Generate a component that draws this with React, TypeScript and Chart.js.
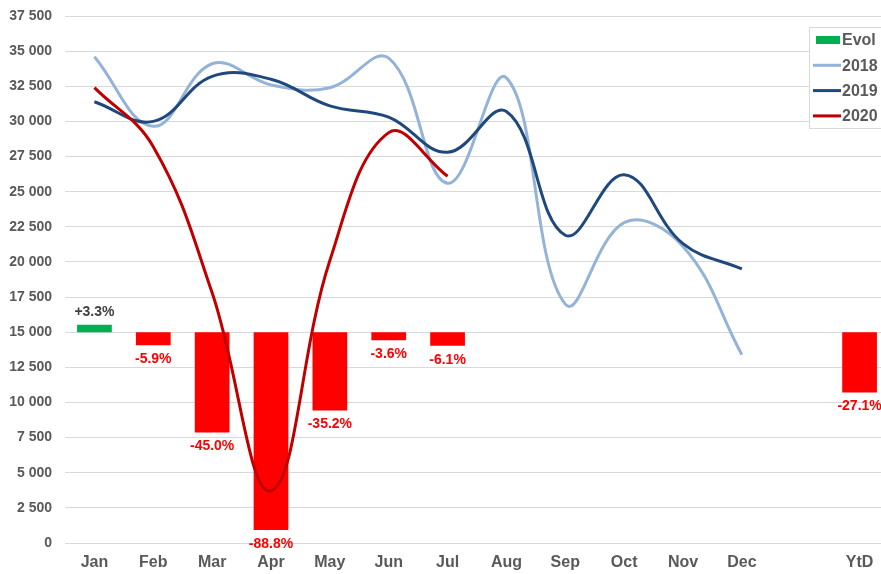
import React, { useEffect, useRef } from "react";
import { Chart, registerables } from "chart.js";

Chart.register(...registerables);

const categories = ["Jan", "Feb", "Mar", "Apr", "May", "Jun", "Jul", "Aug", "Sep", "Oct", "Nov", "Dec", "", "YtD"];
const s2018 = [34600, 29650, 34100, 32600, 32400, 34500, 25600, 33100, 17000, 22800, 21100, 13400, null, null];
const s2019 = [31400, 30000, 33200, 33000, 31100, 30300, 27800, 30700, 21900, 26200, 21300, 19500, null, null];
const s2020 = [32400, 28200, 17800, 3700, 20100, 29200, 26100, null, null, null, null, null, null, null];
const evol = [3.3, -5.9, -45.0, -88.8, -35.2, -3.6, -6.1, null, null, null, null, null, null, -27.1];
const yTicks = { min: 0, max: 37500, step: 2500 };
const evolBase = 15000;
const evolScale = 158.5; // y units per percentage point

const FONT = "'Liberation Sans', Arial, sans-serif";
const C2018 = "#95B3D7";
const C2019 = "#1F497D";
const C2020 = "#C00000";
const CUP = "#00B050";
const CDOWN = "#FF0000";

const fmt = (v: number) => String(v).replace(/\B(?=(\d{3})+(?!\d))/g, " ");

const labelPlugin = {
  id: "evolLabels",
  afterDatasetsDraw(chart: any) {
    const idx = chart.data.datasets.findIndex((d: any) => d.label === "Evol");
    const meta = chart.getDatasetMeta(idx);
    const ys = chart.scales.y;
    const ctx = chart.ctx;
    ctx.save();
    ctx.font = `bold 14px ${FONT}`;
    ctx.textAlign = "center";
    ctx.textBaseline = "middle";
    meta.data.forEach((bar: any, i: number) => {
      const v = evol[i];
      if (v == null) return;
      const end = ys.getPixelForValue(evolBase + v * evolScale);
      const txt = (v >= 0 ? "+" : "") + v.toFixed(1) + "%";
      ctx.fillStyle = v >= 0 ? "#404040" : CDOWN;
      ctx.fillText(txt, bar.x, v >= 0 ? end - 13 : end + 14);
    });
    ctx.restore();
  },
};

const legendPlugin = {
  id: "boxLegend",
  afterDraw(chart: any) {
    const ctx = chart.ctx;
    ctx.save();
    const x0 = 809, y0 = 27, w = 90, h = 101;
    ctx.fillStyle = "#FFFFFF";
    ctx.fillRect(x0, y0, w, h);
    ctx.strokeStyle = "#D9D9D9";
    ctx.lineWidth = 1;
    ctx.strokeRect(x0 + 0.5, y0 + 0.5, w, h);
    const items = [
      { label: "Evol", color: CUP, bar: true },
      { label: "2018", color: C2018, bar: false },
      { label: "2019", color: C2019, bar: false },
      { label: "2020", color: C2020, bar: false },
    ];
    ctx.font = `bold 16px ${FONT}`;
    ctx.textBaseline = "middle";
    ctx.textAlign = "left";
    items.forEach((it, i) => {
      const cy = 40 + i * 25.3;
      if (it.bar) {
        ctx.fillStyle = it.color;
        ctx.fillRect(816, cy - 4, 24, 8);
      } else {
        ctx.strokeStyle = it.color;
        ctx.lineWidth = 3;
        ctx.beginPath();
        ctx.moveTo(813, cy);
        ctx.lineTo(841, cy);
        ctx.stroke();
      }
      ctx.fillStyle = "#595959";
      ctx.fillText(it.label, 842, cy + 1);
    });
    ctx.restore();
  },
};

export default function App() {
  const ref = useRef<HTMLCanvasElement>(null);
  useEffect(() => {
    if (!ref.current) return;
    const lineDs = (label: string, data: any[], color: string, order: number) => ({
      type: "line" as const,
      label,
      data,
      borderColor: color,
      backgroundColor: color,
      borderWidth: 3,
      pointRadius: 0,
      tension: 0.4,
      fill: false,
      spanGaps: false,
      order,
      yAxisID: "y",
    });
    const chart = new Chart(ref.current, {
      type: "bar",
      data: {
        labels: categories,
        datasets: [
          {
            type: "bar" as const,
            label: "Evol",
            data: evol.map((v) => (v == null ? null : [evolBase, evolBase + v * evolScale])) as any,
            backgroundColor: evol.map((v) => (v != null && v >= 0 ? CUP : CDOWN)),
            borderWidth: 0,
            barPercentage: 0.59,
            categoryPercentage: 1,
            order: 4,
            yAxisID: "y",
          },
          lineDs("2018", s2018, C2018, 3),
          lineDs("2019", s2019, C2019, 2),
          lineDs("2020", s2020, C2020, 1),
        ] as any,
      },
      options: {
        responsive: false,
        animation: false,
        devicePixelRatio: 1,
        layout: { padding: { top: 16, right: 0, left: 0, bottom: 0 } },
        plugins: {
          legend: { display: false },
          tooltip: { enabled: false },
        },
        scales: {
          x: {
            grid: { display: false, drawTicks: false },
            border: { display: false },
            ticks: {
              color: "#595959",
              font: { family: FONT, size: 16, weight: "bold" },
              padding: 10,
              maxRotation: 0,
              autoSkip: false,
            },
            afterFit: (s: any) => {
              s.height = 31;
              s.paddingLeft = 0;
              s.paddingRight = 0;
            },
          },
          y: {
            min: yTicks.min,
            max: yTicks.max,
            grid: { color: "#D9D9D9", drawTicks: false, lineWidth: 1 },
            border: { display: false },
            ticks: {
              stepSize: yTicks.step,
              color: "#595959",
              font: { family: FONT, size: 14, weight: "bold" },
              padding: 13,
              callback: (v: any) => fmt(Number(v)),
            },
            afterFit: (s: any) => {
              s.width = 65;
              s.paddingTop = 0;
              s.paddingBottom = 0;
            },
          },
        },
      },
      plugins: [labelPlugin, legendPlugin],
    });
    return () => chart.destroy();
  }, []);
  return (
    <div style={{ position: "absolute", left: 0, top: 0, width: 881, height: 574, overflow: "hidden", background: "#fff" }}>
      <canvas ref={ref} width={889} height={574} style={{ display: "block" }} />
    </div>
  );
}
